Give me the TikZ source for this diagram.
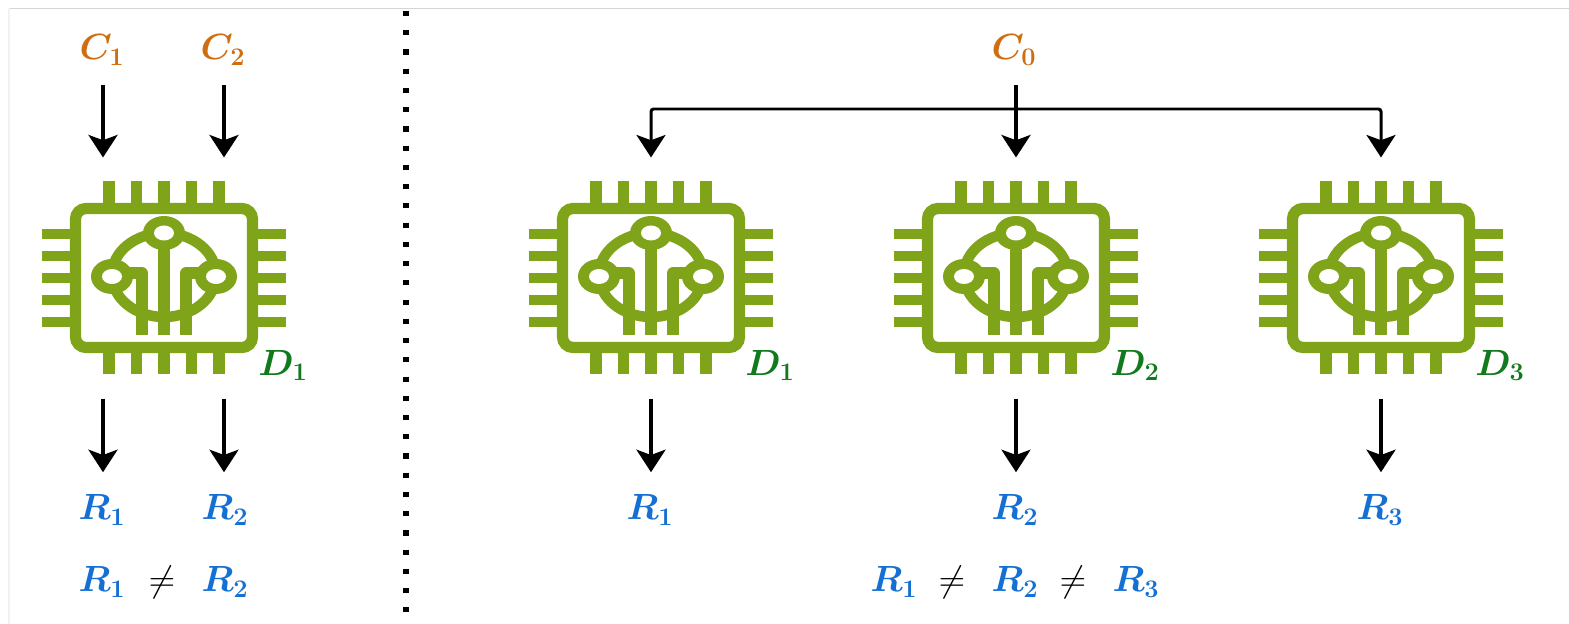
\documentclass[tikz,border=0pt]{standalone}
\usepackage{amsmath,amssymb}
\usepackage{tikz}
\usetikzlibrary{arrows.meta,calc,positioning}
\definecolor{verdechip}{HTML}{7FA41A}
\definecolor{verdetexto}{HTML}{117A1C}
\definecolor{naranja}{HTML}{CF6D12}
\definecolor{azul}{HTML}{1470D2}
\definecolor{marco}{HTML}{D4D4D4}
\definecolor{marco2}{HTML}{F2F2F2}
\tikzset{
  punta/.tip={Stealth[length=12.8pt,width=16.5pt,inset=3pt]},
  caja/.style={rectangle,inner sep=0pt,outer sep=0pt,minimum width=139pt,minimum height=137.2pt},
  etiqc/.style={inner sep=0pt,outer sep=0pt,minimum height=39.7pt,text=naranja,font=\fontsize{20}{23}\selectfont\boldmath},
  etiqr/.style={inner sep=0pt,outer sep=0pt,minimum height=43pt,text=azul,font=\fontsize{20}{23}\selectfont\boldmath},
  etiqd/.style={inner sep=0pt,text=verdetexto,font=\fontsize{20}{23}\selectfont\boldmath},
  signo/.style={inner sep=0pt,text=black,font=\fontsize{21}{24}\selectfont},
  flecha/.style={draw=black,line width=2.1pt,-punta},
  flechafina/.style={draw=black,line width=1.9pt,-punta},
  ramal/.style={draw=black,line width=1.7pt,rounded corners=1.5pt,punta-punta},
  puntos/.style={draw=black,line width=2.9pt,dash pattern=on 2.9pt off 8.05pt},
  chip/.pic={
    \foreach \d in {-55,-27.6,0,27.6,55} {
      \draw[verdechip,line width=6.6pt] (\d,-96.5) -- (\d,-75);
      \draw[verdechip,line width=6.6pt] (\d,75) -- (\d,96.5);
    }
    \foreach \d in {-44,-22,0,22,44} {
      \draw[verdechip,line width=6.2pt] (-122,\d) -- (-94,\d);
      \draw[verdechip,line width=6.2pt] (94,\d) -- (122,\d);
    }
    \draw[verdechip,fill=white,line width=6.4pt,rounded corners=6pt] (-88.5,-69.5) rectangle (88.5,69.5);
    \draw[verdechip,line width=6pt] (0,-3) ellipse [x radius=52,y radius=42];
    \draw[verdechip,line width=6.4pt] (0,-45) -- (0,57);
    \draw[verdechip,line width=6.4pt,line join=round] (-52,-5) -- (-22,-5) -- (-22,57);
    \draw[verdechip,line width=6.4pt,line join=round] (52,-5) -- (22,-5) -- (22,57);
    \fill[verdechip] (0,-45) ellipse [x radius=21,y radius=17];
    \fill[verdechip] (-52,-1.5) ellipse [x radius=21,y radius=17.5];
    \fill[verdechip] (52,-1.5) ellipse [x radius=21,y radius=17.5];
    \fill[white] (0,-45) ellipse [x radius=10,y radius=7.5];
    \fill[white] (-52,-1.5) ellipse [x radius=10,y radius=7.5];
    \fill[white] (52,-1.5) ellipse [x radius=10,y radius=7.5];
  },
}
\begin{document}
\begin{tikzpicture}[x=0.02cm,y=-0.02cm]
\useasboundingbox (0,0) rectangle (1569,624);
\draw[marco,line width=0.7pt] (10,8.5) -- (1569,8.5);
\draw[marco2,line width=1.2pt] (9,8.5) -- (9,624);
\coordinate (pa) at (406,11);
\coordinate (pb) at (406,616);
\draw[puntos] (pa) -- (pb);
\node[caja] (d0) at (164,278) {};
\node[caja] (da) at (651,278) {};
\node[caja] (db) at (1016,278) {};
\node[caja] (dc) at (1381,278) {};
\pic at (d0) {chip};
\pic at (da) {chip};
\pic at (db) {chip};
\pic at (dc) {chip};
\node[etiqd] (t0) at (283,365.5) {$D_1$};
\node[etiqd] (ta) at (770,365.5) {$D_1$};
\node[etiqd] (tb) at (1135,365.5) {$D_2$};
\node[etiqd] (tc) at (1500,365.5) {$D_3$};
\node[etiqc] (c1) at (102,50) {$C_1$};
\node[etiqc] (c2) at (223,50) {$C_2$};
\node[etiqc] (c0) at (1014,50) {$C_0$};
\node[etiqr] (r1) at (102,510) {$R_1$};
\node[etiqr] (r2) at (225,510) {$R_2$};
\node[etiqr] (ra) at (650,510) {$R_1$};
\node[etiqr] (rb) at (1015,510) {$R_2$};
\node[etiqr] (rc) at (1380,510) {$R_3$};
\node[etiqr] (s1) at (102,582) {$R_1$};
\node[signo] (n1) at (162,582) {$\neq$};
\node[etiqr] (s2) at (225,582) {$R_2$};
\node[etiqr] (sa) at (894,582) {$R_1$};
\node[signo] (na) at (952,582) {$\neq$};
\node[etiqr] (sb) at (1015,582) {$R_2$};
\node[signo] (nb) at (1073,582) {$\neq$};
\node[etiqr] (sc) at (1136,582) {$R_3$};
\coordinate (x1) at (103,0);
\coordinate (x2) at (224,0);
\coordinate (rama) at (1016,109);
\draw[flecha] (x1 |- c1.south) -- (x1 |- d0.north);
\draw[flechafina] (x2 |- c2.south) -- (x2 |- d0.north);
\draw[flecha] (x1 |- d0.south) -- (x1 |- r1.north);
\draw[flechafina] (x2 |- d0.south) -- (x2 |- r2.north);
\draw[ramal] (da.north) |- (rama) -| (dc.north);
\draw[flecha] (db.north |- c0.south) -- (db.north);
\draw[flecha] (da.south) -- (da.south |- ra.north);
\draw[flechafina] (db.south) -- (db.south |- rb.north);
\draw[flecha] (dc.south) -- (dc.south |- rc.north);
\end{tikzpicture}
\end{document}
